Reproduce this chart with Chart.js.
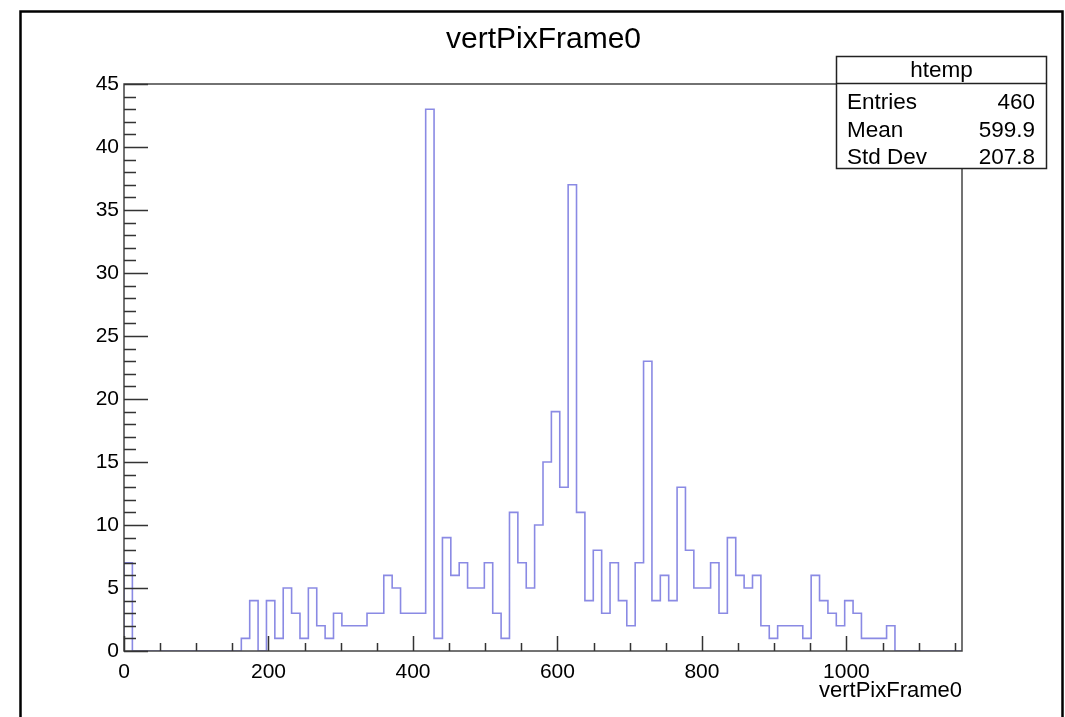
<!DOCTYPE html>
<html><head><meta charset="utf-8">
<script src="https://cdn.jsdelivr.net/npm/chart.js@4.4.1/dist/chart.umd.min.js"></script>
<style>html,body{margin:0;padding:0;background:#fff;}#wrap{position:relative;width:1065px;height:717px;}canvas{display:block;}</style>
</head><body><div id="wrap"><canvas id="c" width="1065" height="717"></canvas></div>
<script>
// ---- data ----
const histName = 'htemp';
const varName = 'vertPixFrame0';
const binLow = 0;
const binWidth = 11.6;
const nBins = 100;
const counts = [
  7,0,0,0,0,0,0,0,0,0,
  0,0,0,0,1,4,0,4,1,5,
  3,1,5,2,1,3,2,2,2,3,
  3,6,5,3,3,3,43,1,9,6,
  7,5,5,7,3,1,11,7,5,10,
  15,19,13,37,11,4,8,3,7,4,
  2,7,23,4,6,4,13,8,5,5,
  7,3,9,6,5,6,2,1,2,2,
  2,1,6,4,3,2,4,3,1,1,
  1,2,0,0,0,0,0,0,0,0
];
const xMajorTicks = [0, 200, 400, 600, 800, 1000];
const xMinorStep = 50;
const yMin = 0, yMax = 45, yMajorStep = 5, yMinorStep = 1;
const statsLabels = ['Entries', 'Mean', 'Std Dev'];
const statsValues = ['460', '599.9', '207.8'];

const FONT = "'Liberation Sans', Arial, Helvetica, sans-serif";
const xMax = binLow + nBins * binWidth;

// histogram outline points (bin low edges, stepped)
const points = [{x: binLow, y: 0}];
counts.forEach((c, i) => points.push({x: binLow + i * binWidth, y: c}));
points.push({x: xMax, y: counts[counts.length - 1]});

const rootFrame = {
  id: 'rootFrame',
  beforeDraw(chart) {
    const ctx = chart.ctx;
    ctx.save();
    ctx.fillStyle = '#fff';
    ctx.fillRect(0, 0, chart.width, chart.height);
    ctx.restore();
  },
  afterDraw(chart) {
    const {ctx, chartArea: a, scales: {x, y}} = chart;
    ctx.save();
    // outer canvas border
    ctx.strokeStyle = '#000';
    ctx.lineWidth = 2.5;
    ctx.strokeRect(20.5, 11.5, 1042, 740);
    // frame
    ctx.strokeStyle = '#444';
    ctx.lineWidth = 1.5;
    ctx.strokeRect(a.left, a.top, a.right - a.left, a.bottom - a.top);
    // y ticks
    ctx.strokeStyle = '#333';
    ctx.beginPath();
    for (let v = yMin; v <= yMax + 1e-9; v += yMinorStep) {
      const py = Math.round(y.getPixelForValue(v)) + 0.5;
      const len = (v % yMajorStep === 0) ? 24 : 12;
      ctx.moveTo(a.left, py);
      ctx.lineTo(a.left + len, py);
    }
    // x ticks
    for (let v = 0; v <= xMax; v += xMinorStep) {
      const px = Math.round(x.getPixelForValue(v)) + 0.5;
      const len = xMajorTicks.includes(v) ? 15 : 8;
      ctx.moveTo(px, a.bottom);
      ctx.lineTo(px, a.bottom - len);
    }
    ctx.stroke();
    // stats box
    const bx = 836.5, by = 56.5, bw = 210, bh = 112;
    ctx.fillStyle = '#fff';
    ctx.fillRect(bx, by, bw, bh);
    ctx.strokeStyle = '#222';
    ctx.lineWidth = 1.5;
    ctx.strokeRect(bx, by, bw, bh);
    ctx.beginPath();
    ctx.moveTo(bx, 83.5);
    ctx.lineTo(bx + bw, 83.5);
    ctx.stroke();
    ctx.fillStyle = '#000';
    ctx.font = '22.5px ' + FONT;
    ctx.textBaseline = 'alphabetic';
    ctx.textAlign = 'center';
    ctx.fillText(histName, bx + bw / 2, 77);
    const rowBase = [108.5, 137, 163.5];
    statsLabels.forEach((lab, i) => {
      ctx.textAlign = 'left';
      ctx.fillText(lab, 847, rowBase[i]);
      ctx.textAlign = 'right';
      ctx.fillText(statsValues[i], 1035, rowBase[i]);
    });
    ctx.restore();
  }
};

new Chart(document.getElementById('c'), {
  type: 'line',
  data: {
    datasets: [{
      data: points,
      stepped: true,
      borderColor: '#8a8ae4',
      borderWidth: 1.6,
      pointRadius: 0,
      fill: false,
      tension: 0
    }]
  },
  options: {
    responsive: false,
    animation: false,
    layout: {padding: {left: 22, right: 0, top: 0, bottom: 0}},
    plugins: {
      legend: {display: false},
      tooltip: {enabled: false},
      title: {
        display: true,
        text: varName,
        color: '#000',
        font: {family: FONT, size: 30, weight: 'normal'},
        padding: {top: 21.5, bottom: 26.5}
      }
    },
    scales: {
      x: {
        type: 'linear',
        min: binLow,
        max: xMax,
        grid: {display: false, drawTicks: false},
        border: {display: false},
        afterBuildTicks(s) { s.ticks = xMajorTicks.map(v => ({value: v})); },
        afterFit(s) { s.height = 66; },
        ticks: {
          color: '#000', autoSkip: false, maxRotation: 0, padding: 9,
          font: {family: FONT, size: 21},
          callback: v => String(v)
        },
        title: {
          display: true, text: varName, align: 'end', color: '#000',
          font: {family: FONT, size: 22},
          padding: {top: 0, bottom: 13}
        }
      },
      y: {
        min: yMin,
        max: yMax,
        grid: {display: false, drawTicks: false},
        border: {display: false},
        afterFit(s) { s.width = 102; },
        ticks: {
          stepSize: yMajorStep, color: '#000', padding: 5,
          font: {family: FONT, size: 21}
        }
      },
      yRight: {
        type: 'linear',
        position: 'right',
        display: true,
        min: yMin,
        max: yMax,
        grid: {display: false, drawTicks: false},
        border: {display: false},
        ticks: {display: false},
        afterFit(s) { s.width = 103; }
      }
    }
  },
  plugins: [rootFrame]
});
</script>
</body></html>
